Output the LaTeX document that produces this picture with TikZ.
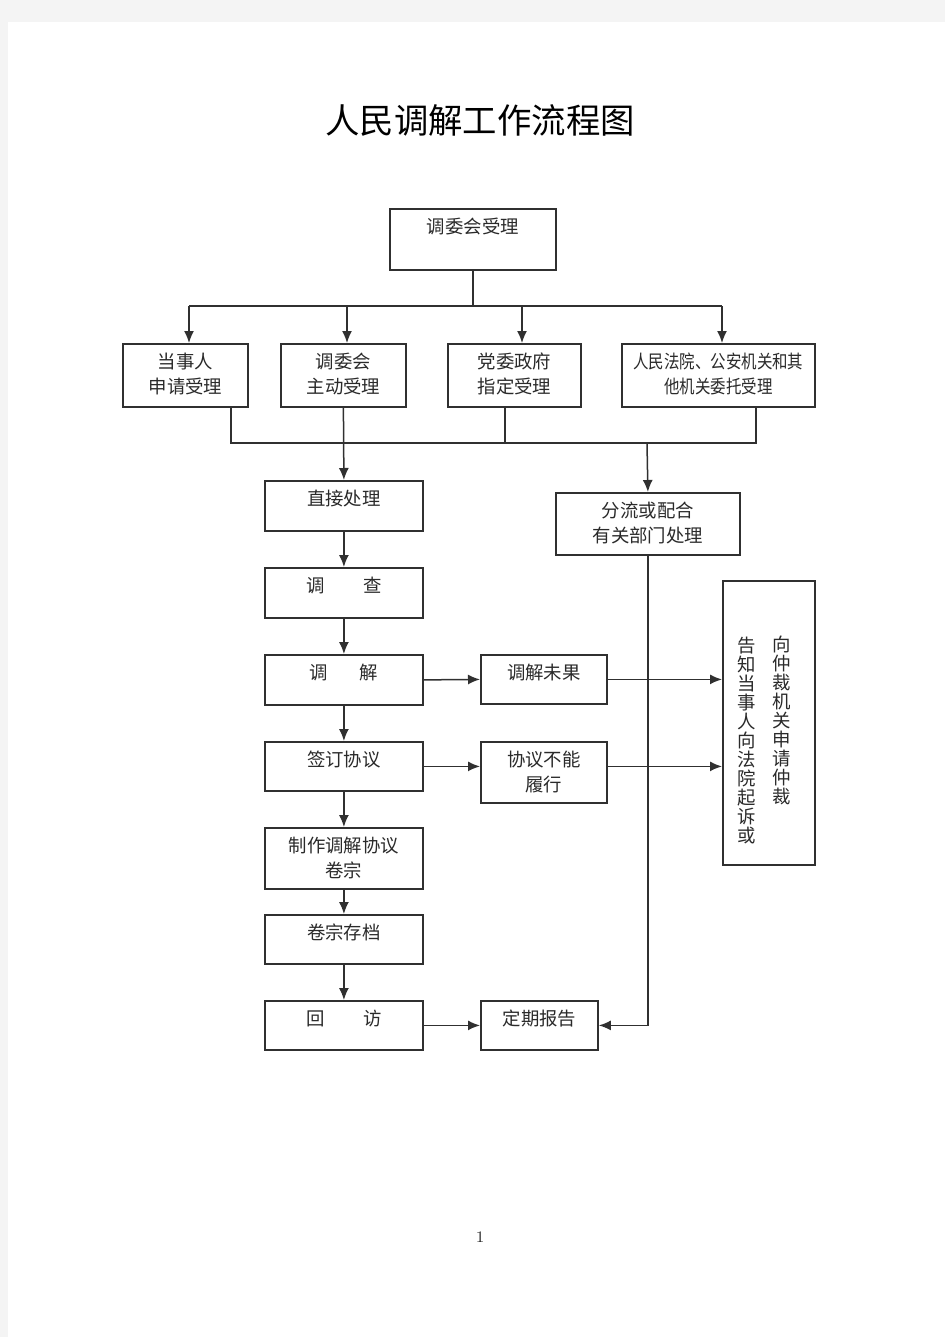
\documentclass[tikz,border=0pt]{standalone}
\usepackage{fontspec}
\usepackage{xcolor}
\usetikzlibrary{arrows.meta}
\newfontfamily\cjk{Noto Sans CJK SC}
\newfontfamily\cjknarrow{Noto Sans CJK SC}[FakeStretch=0.84]
\definecolor{PageGray}{HTML}{F4F4F4}
\definecolor{LineGray}{HTML}{303030}
\definecolor{TextGray}{HTML}{2A2A2A}
\tikzset{
    % Node styles - sharp boxes, text sits near the top
    flowbox/.style={
        rectangle,
        draw=LineGray,
        line width=0.9pt,
        anchor=north west,
        align=center,
        inner sep=0pt,
        text height=12.5pt,
        text=TextGray,
        font=\cjk\fontsize{9.2pt}{12.5pt}\selectfont
    },
    twolines/.style={
        text height=25pt
    },
    narrowtext/.style={
        font=\cjknarrow\fontsize{9.2pt}{12.5pt}\selectfont
    },
    vcolumn/.style={
        anchor=north,
        align=center,
        inner sep=0pt,
        text=TextGray,
        font=\cjk\fontsize{9.2pt}{9.5pt}\selectfont
    },
    % Arrow styles
    myarrow/.style={
        -{Latex[length=6pt,width=5pt]},
        line width=0.75pt,
        LineGray
    },
    myline/.style={
        line width=0.75pt,
        LineGray
    }
}

\begin{document}
\begin{tikzpicture}[x=0.5pt, y=-0.5pt]
    % Page
    \fill[PageGray] (0,0) rectangle (945,1337);
    \fill[white] (8,22) rectangle (945,1337);
    \useasboundingbox (0,0) rectangle (945,1337);

    % Title
    \node[font=\cjk\fontsize{17.2pt}{20pt}\selectfont] (title) at (480,120) {人民调解工作流程图};

    % Intake boxes
    \node[flowbox, minimum width=83pt, minimum height=30.5pt, text depth=18pt] (accept) at (389,208) {调委会受理};
    \node[flowbox, twolines, minimum width=62.5pt, minimum height=31.5pt, text depth=6.5pt] (party) at (122,343) {当事人\\申请受理};
    \node[flowbox, twolines, minimum width=62.5pt, minimum height=31.5pt, text depth=6.5pt] (self) at (280,343) {调委会\\主动受理};
    \node[flowbox, twolines, minimum width=66.5pt, minimum height=31.5pt, text depth=6.5pt] (gov) at (447,343) {党委政府\\指定受理};
    \node[flowbox, twolines, narrowtext, minimum width=96.5pt, minimum height=31.5pt, text depth=6.5pt] (court) at (621,343) {人民法院、公安机关和其\\他机关委托受理};

    % Main column
    \node[flowbox, minimum width=79pt, minimum height=25pt, text depth=12.5pt] (direct) at (264,480) {直接处理};
    \node[flowbox, minimum width=79pt, minimum height=25pt, text depth=12.5pt] (survey) at (264,567) {调\hspace{19.3pt}查};
    \node[flowbox, minimum width=79pt, minimum height=25pt, text depth=12.5pt] (mediate) at (264,654) {调\hspace{15.8pt}解};
    \node[flowbox, minimum width=79pt, minimum height=24.5pt, text depth=12pt] (sign) at (264,741) {签订协议};
    \node[flowbox, twolines, minimum width=79pt, minimum height=30.5pt, text depth=5.5pt] (file) at (264,827) {制作调解协议\\卷宗};
    \node[flowbox, minimum width=79pt, minimum height=24.5pt, text depth=12pt] (archive) at (264,914) {卷宗存档};
    \node[flowbox, minimum width=79pt, minimum height=24.5pt, text depth=12pt] (revisit) at (264,1000) {回\hspace{19.3pt}访};

    % Side boxes
    \node[flowbox, twolines, minimum width=92pt, minimum height=31pt, text depth=6pt] (divert) at (555,492) {分流或配合\\有关部门处理};
    \node[flowbox, minimum width=63pt, minimum height=24.5pt, text depth=12pt] (failed) at (480,654) {调解未果};
    \node[flowbox, twolines, minimum width=63pt, minimum height=30.5pt, text depth=5.5pt] (breach) at (480,741) {协议不能\\履行};
    \node[flowbox, minimum width=58.5pt, minimum height=24.5pt, text depth=12pt] (report) at (480,1000) {定期报告};

    % Litigation / arbitration box, text in two vertical columns
    \node[flowbox, minimum width=46pt, minimum height=142pt, text height=0pt, text depth=0pt] (sue) at (722,580) {};
    \node[vcolumn] (sueright) at (782,636) {向\\仲\\裁\\机\\关\\申\\请\\仲\\裁};
    \node[vcolumn] (sueleft) at (747,637) {告\\知\\当\\事\\人\\向\\法\\院\\起\\诉\\或};

    % Page number
    \node[font=\fontsize{8pt}{9pt}\selectfont, text=TextGray] (pageno) at (480,1237) {1};

    % Split bus
    \coordinate (split1) at (189,306);
    \coordinate (split2) at (347,306);
    \coordinate (split3) at (522,306);
    \coordinate (split4) at (722,306);
    \draw[myline] (accept.south) -- (accept.south |- split1);
    \draw[myline] (split1) -- (split4);
    \draw[myarrow] (split1) -- (split1 |- party.north);
    \draw[myarrow] (split2) -- (split2 |- self.north);
    \draw[myarrow] (split3) -- (split3 |- gov.north);
    \draw[myarrow] (split4) -- (split4 |- court.north);

    % Merge bus
    \coordinate (merge1) at (231,443);
    \coordinate (merge3) at (505,443);
    \coordinate (merge4) at (756,443);
    \coordinate (merge5) at (647,443);
    \draw[myline] (merge1 |- party.south) -- (merge1) -- (merge4) -- (merge4 |- court.south);
    \draw[myline] (merge3 |- gov.south) -- (merge3);
    \draw[myarrow] (self.south) -- (direct.north);
    \draw[myarrow] (merge5) -- (divert.north);

    % Main column arrows
    \draw[myarrow] (direct.south) -- (survey.north);
    \draw[myarrow] (survey.south) -- (mediate.north);
    \draw[myarrow] (mediate.south) -- (sign.north);
    \draw[myarrow] (sign.south) -- (file.north);
    \draw[myarrow] (file.south) -- (archive.north);
    \draw[myarrow] (archive.south) -- (revisit.north);

    % Side arrows
    \draw[myarrow] (mediate.east) -- (failed.west);
    \draw[myarrow] (failed.east) -- (failed.east -| sue.west);
    \draw[myarrow] (sign.east) -- (sign.east -| breach.west);
    \draw[myarrow] (sign.east -| breach.east) -- (sign.east -| sue.west);
    \draw[myarrow] (revisit.east) -- (report.west);
    \draw[myarrow] (divert.south) |- (report.east);
\end{tikzpicture}
\end{document}
